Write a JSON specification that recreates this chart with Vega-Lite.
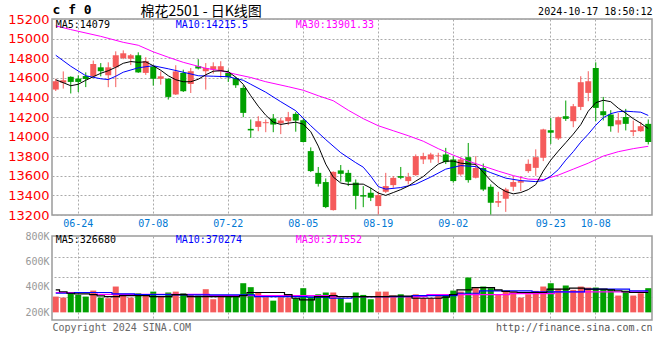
{
 "$schema": "https://vega.github.io/schema/vega-lite/v6.json",
 "background": "#ffffff",
 "padding": {"left": 6, "top": 2, "right": 8, "bottom": 4},
 "config": {
  "view": {"stroke": "#9a9a9a", "strokeWidth": 1.5},
  "axis": {"gridColor": "#aaaaaa", "gridDash": [2, 2], "gridWidth": 1, "domain": false, "ticks": false, "labelFont": "DejaVu Sans Mono", "titleFont": "DejaVu Sans Mono", "titleFontWeight": "normal"},
  "text": {"font": "DejaVu Sans Mono"}
 },
 "datasets": {
  "k": [
   {"d":"06-19","o":14480,"h":14590,"l":14465,"c":14565,"v":324000,"m5":14580,"m10":14830,"m30":15130,"vm5":377000,"vm10":350000,"vm30":356000},
   {"d":"06-20","o":14550,"h":14665,"l":14490,"c":14575,"v":316000,"m5":14550,"vm5":362000,"vm10":350000,"vm30":356000},
   {"d":"06-21","o":14610,"h":14615,"l":14440,"c":14558,"v":356000,"m5":14519,"m10":14718,"m30":15092,"vm5":350000,"vm10":350000,"vm30":356000},
   {"d":"06-24","o":14592,"h":14625,"l":14455,"c":14558,"v":337000,"m5":14534,"vm5":345000,"vm10":356000,"vm30":356000},
   {"d":"06-25","o":14618,"h":14655,"l":14505,"c":14588,"v":324000,"m5":14575,"m10":14621,"vm5":345000,"vm10":356000,"vm30":356000},
   {"d":"06-26","o":14616,"h":14776,"l":14610,"c":14741,"v":371000,"m5":14611,"vm5":340000,"vm10":356000,"vm30":356000},
   {"d":"06-27","o":14707,"h":14750,"l":14615,"c":14667,"v":316000,"m5":14646,"m10":14590,"m30":15023,"vm5":330000,"vm10":356000,"vm30":342000},
   {"d":"06-28","o":14626,"h":14758,"l":14504,"c":14707,"v":311000,"m5":14672,"m10":14582,"vm5":324000,"vm10":356000,"vm30":342000},
   {"d":"07-01","o":14707,"h":14870,"l":14505,"c":14830,"v":403000,"m5":14707,"m10":14616,"vm5":324000,"vm10":345000,"vm30":342000},
   {"d":"07-02","o":14800,"h":14880,"l":14790,"c":14850,"v":332000,"m5":14748,"m10":14657,"m30":14962,"vm5":332000,"vm10":345000,"vm30":342000},
   {"d":"07-03","o":14795,"h":14843,"l":14730,"c":14830,"v":316000,"m5":14766,"vm5":332000,"vm10":345000,"vm30":342000},
   {"d":"07-04","o":14830,"h":14860,"l":14650,"c":14655,"v":350000,"m5":14758,"m10":14702,"m30":14932,"vm5":332000,"vm10":340000,"vm30":342000},
   {"d":"07-05","o":14650,"h":14810,"l":14630,"c":14770,"v":337000,"m5":14763,"vm5":332000,"vm10":340000,"vm30":342000},
   {"d":"07-08","o":14715,"h":14720,"l":14520,"c":14590,"v":363000,"m5":14723,"m10":14723,"m30":14865,"vm5":324000,"vm10":340000,"vm30":342000},
   {"d":"07-09","o":14590,"h":14665,"l":14530,"c":14615,"v":324000,"m5":14677,"vm5":324000,"vm10":340000,"vm30":342000},
   {"d":"07-10","o":14590,"h":14595,"l":14378,"c":14405,"v":356000,"m5":14621,"m10":14692,"m30":14810,"vm5":324000,"vm10":340000,"vm30":342000},
   {"d":"07-11","o":14430,"h":14728,"l":14425,"c":14665,"v":363000,"m5":14580,"vm5":340000,"vm10":337000,"vm30":342000},
   {"d":"07-12","o":14650,"h":14683,"l":14455,"c":14463,"v":350000,"m5":14560,"m10":14657,"m30":14758,"vm5":340000,"vm10":337000,"vm30":342000},
   {"d":"07-15","o":14537,"h":14700,"l":14445,"c":14667,"v":337000,"m5":14560,"vm5":324000,"vm10":337000,"vm30":342000},
   {"d":"07-16","o":14718,"h":14790,"l":14685,"c":14695,"v":332000,"m5":14585,"m10":14621,"vm5":324000,"vm10":337000,"vm30":342000},
   {"d":"07-17","o":14667,"h":14750,"l":14480,"c":14700,"v":382000,"m5":14631,"m30":14697,"vm5":324000,"vm10":337000,"vm30":342000},
   {"d":"07-18","o":14684,"h":14758,"l":14643,"c":14718,"v":303000,"m5":14667,"m10":14616,"vm5":324000,"vm10":337000,"vm30":332000},
   {"d":"07-19","o":14667,"h":14769,"l":14600,"c":14718,"v":332000,"m5":14672,"m30":14672,"vm5":324000,"vm10":337000,"vm30":332000},
   {"d":"07-22","o":14650,"h":14683,"l":14558,"c":14606,"v":332000,"m5":14662,"m10":14611,"vm5":324000,"vm10":337000,"vm30":332000},
   {"d":"07-23","o":14598,"h":14610,"l":14497,"c":14524,"v":332000,"m5":14606,"m30":14636,"vm5":324000,"vm10":337000,"vm30":332000},
   {"d":"07-24","o":14497,"h":14524,"l":14198,"c":14242,"v":429000,"m5":14534,"m10":14575,"vm5":332000,"vm10":337000,"vm30":332000},
   {"d":"07-25","o":14079,"h":14175,"l":13987,"c":14063,"v":398000,"m5":14417,"m10":14534,"m30":14603,"vm5":356000,"vm10":337000,"vm30":332000},
   {"d":"07-26","o":14099,"h":14208,"l":14055,"c":14157,"v":356000,"m5":14310,"vm5":356000,"vm10":324000,"vm30":332000},
   {"d":"07-29","o":14137,"h":14175,"l":14045,"c":14147,"v":319000,"m5":14218,"m10":14453,"m30":14560,"vm5":356000,"vm10":324000,"vm30":332000},
   {"d":"07-30","o":14185,"h":14230,"l":14045,"c":14123,"v":292000,"m5":14147,"vm5":356000,"vm10":324000,"vm30":332000},
   {"d":"07-31","o":14137,"h":14190,"l":14025,"c":14164,"v":319000,"m5":14124,"m10":14356,"vm5":356000,"vm10":324000,"vm30":332000},
   {"d":"08-01","o":14157,"h":14252,"l":14117,"c":14198,"v":316000,"m5":14137,"m30":14509,"vm5":340000,"vm10":324000,"vm30":332000},
   {"d":"08-02","o":14232,"h":14250,"l":14050,"c":14164,"v":311000,"m5":14147,"m10":14264,"vm5":311000,"vm10":324000,"vm30":332000},
   {"d":"08-05","o":14167,"h":14185,"l":13940,"c":13945,"v":390000,"m5":14127,"m30":14473,"vm5":298000,"vm10":324000,"vm30":332000},
   {"d":"08-06","o":13852,"h":13890,"l":13638,"c":13648,"v":324000,"m5":14050,"m10":14111,"vm5":298000,"vm10":320000,"vm30":332000},
   {"d":"08-07","o":13630,"h":13690,"l":13490,"c":13518,"v":342000,"m5":13903,"m30":14417,"vm5":324000,"vm10":320000,"vm30":332000},
   {"d":"08-08","o":13536,"h":13573,"l":13270,"c":13281,"v":356000,"m5":13719,"m10":13969,"vm5":324000,"vm10":320000,"vm30":332000},
   {"d":"08-09","o":13250,"h":13645,"l":13245,"c":13640,"v":356000,"m5":13587,"m30":14366,"vm5":332000,"vm10":311000,"vm30":324000},
   {"d":"08-12","o":13655,"h":13710,"l":13540,"c":13620,"v":311000,"m5":13526,"m10":13836,"vm5":324000,"vm10":311000,"vm30":324000},
   {"d":"08-13","o":13630,"h":13660,"l":13495,"c":13539,"v":277000,"m5":13512,"m30":14269,"vm5":324000,"vm10":311000,"vm30":324000},
   {"d":"08-14","o":13530,"h":13563,"l":13258,"c":13395,"v":356000,"m5":13515,"m10":13734,"vm5":324000,"vm10":324000,"vm30":324000},
   {"d":"08-15","o":13403,"h":13495,"l":13280,"c":13388,"v":337000,"m5":13515,"m10":13688,"m30":14183,"vm5":324000,"vm10":324000,"vm30":324000},
   {"d":"08-16","o":13427,"h":13478,"l":13342,"c":13376,"v":303000,"m5":13475,"m10":13597,"vm5":324000,"vm10":324000,"vm30":324000},
   {"d":"08-19","o":13291,"h":13440,"l":13205,"c":13403,"v":363000,"m5":13424,"m10":13490,"m30":14111,"vm5":324000,"vm10":324000,"vm30":324000},
   {"d":"08-20","o":13437,"h":13630,"l":13425,"c":13495,"v":363000,"m5":13400,"m10":13464,"vm5":324000,"vm10":324000,"vm30":324000},
   {"d":"08-21","o":13505,"h":13597,"l":13478,"c":13579,"v":332000,"m5":13429,"m30":14060,"vm5":328000,"vm10":324000,"vm30":324000},
   {"d":"08-22","o":13597,"h":13690,"l":13565,"c":13580,"v":342000,"m5":13459,"m10":13480,"vm5":328000,"vm10":324000,"vm30":324000},
   {"d":"08-23","o":13546,"h":13630,"l":13512,"c":13590,"v":324000,"m5":13495,"m30":14009,"vm5":328000,"vm10":324000,"vm30":324000},
   {"d":"08-26","o":13607,"h":13818,"l":13600,"c":13800,"v":342000,"m5":13546,"m10":13515,"vm5":311000,"vm10":332000,"vm30":324000},
   {"d":"08-27","o":13767,"h":13835,"l":13720,"c":13801,"v":311000,"m5":13592,"m30":13953,"vm5":311000,"vm10":332000,"vm30":324000},
   {"d":"08-28","o":13767,"h":13835,"l":13733,"c":13818,"v":311000,"m5":13658,"m10":13587,"vm5":311000,"vm10":332000,"vm30":340000},
   {"d":"08-29","o":13800,"h":13835,"l":13733,"c":13808,"v":342000,"m5":13719,"m30":13877,"vm5":311000,"vm10":332000,"vm30":340000},
   {"d":"08-30","o":13818,"h":13885,"l":13720,"c":13740,"v":332000,"m5":13750,"m10":13668,"vm5":320000,"vm10":332000,"vm30":340000},
   {"d":"09-02","o":13767,"h":13800,"l":13530,"c":13546,"v":371000,"m5":13750,"m30":13811,"vm5":340000,"vm10":332000,"vm30":340000},
   {"d":"09-03","o":13614,"h":13790,"l":13600,"c":13767,"v":363000,"m5":13729,"m10":13704,"vm5":377000,"vm10":350000,"vm30":340000},
   {"d":"09-04","o":13790,"h":13935,"l":13530,"c":13556,"v":474000,"m5":13722,"m30":13750,"vm5":377000,"vm10":350000,"vm30":340000},
   {"d":"09-05","o":13580,"h":13800,"l":13573,"c":13680,"v":390000,"m5":13716,"m10":13694,"vm5":395000,"vm10":350000,"vm30":340000},
   {"d":"09-06","o":13680,"h":13725,"l":13444,"c":13460,"v":403000,"m5":13637,"m30":13699,"vm5":395000,"vm10":369000,"vm30":340000},
   {"d":"09-09","o":13488,"h":13512,"l":13205,"c":13325,"v":390000,"m5":13551,"m10":13632,"vm5":395000,"vm10":369000,"vm30":340000},
   {"d":"09-10","o":13325,"h":13437,"l":13282,"c":13342,"v":342000,"m5":13485,"m30":13648,"vm5":377000,"vm10":369000,"vm30":340000},
   {"d":"09-11","o":13366,"h":13478,"l":13232,"c":13461,"v":363000,"m5":13439,"m10":13576,"vm5":365000,"vm10":369000,"vm30":340000},
   {"d":"09-12","o":13488,"h":13597,"l":13444,"c":13536,"v":363000,"m5":13416,"m30":13602,"vm5":360000,"vm10":369000,"vm30":348000},
   {"d":"09-13","o":13530,"h":13597,"l":13444,"c":13546,"v":316000,"m5":13429,"m10":13551,"vm5":356000,"vm10":369000,"vm30":348000},
   {"d":"09-18","o":13648,"h":13767,"l":13630,"c":13722,"v":342000,"m5":13459,"m30":13566,"vm5":356000,"vm10":369000,"vm30":348000},
   {"d":"09-19","o":13681,"h":13870,"l":13600,"c":13790,"v":369000,"m5":13510,"m10":13541,"vm5":356000,"vm10":361000,"vm30":348000},
   {"d":"09-20","o":13784,"h":14080,"l":13750,"c":14073,"v":403000,"m5":13648,"m10":13551,"m30":13562,"vm5":356000,"vm10":361000,"vm30":348000},
   {"d":"09-23","o":14065,"h":14190,"l":13925,"c":14040,"v":429000,"m5":13760,"m10":13597,"vm5":382000,"vm10":361000,"vm30":348000},
   {"d":"09-24","o":13981,"h":14205,"l":13965,"c":14198,"v":385000,"m5":13852,"m10":13663,"m30":13607,"vm5":382000,"vm10":361000,"vm30":361000},
   {"d":"09-25","o":14208,"h":14368,"l":14160,"c":14181,"v":411000,"m5":13938,"m10":13760,"vm5":382000,"vm10":361000,"vm30":361000},
   {"d":"09-26","o":14157,"h":14333,"l":14096,"c":14310,"v":377000,"m5":14025,"m10":13846,"m30":13668,"vm5":390000,"vm10":361000,"vm30":361000},
   {"d":"09-27","o":14303,"h":14616,"l":14270,"c":14555,"v":403000,"m5":14122,"m10":13943,"vm5":390000,"vm10":361000,"vm30":361000},
   {"d":"09-30","o":14446,"h":14667,"l":14361,"c":14565,"v":395000,"m5":14259,"m10":14025,"m30":13729,"vm5":382000,"vm10":382000,"vm30":361000},
   {"d":"10-08","o":14700,"h":14758,"l":14157,"c":14293,"v":395000,"m5":14346,"m10":14116,"vm5":382000,"vm10":382000,"vm30":361000},
   {"d":"10-09","o":14259,"h":14405,"l":14165,"c":14218,"v":382000,"m5":14371,"m10":14193,"m30":13801,"vm5":382000,"vm10":382000,"vm30":361000},
   {"d":"10-10","o":14225,"h":14270,"l":14050,"c":14106,"v":382000,"m5":14356,"m10":14234,"vm5":377000,"vm10":382000,"vm30":361000},
   {"d":"10-11","o":14123,"h":14242,"l":14040,"c":14167,"v":332000,"m5":14290,"m10":14254,"m30":13846,"vm5":370000,"vm10":382000,"vm30":361000},
   {"d":"10-14","o":14200,"h":14283,"l":14063,"c":14130,"v":371000,"m5":14239,"m10":14259,"vm5":362000,"vm10":382000,"vm30":361000},
   {"d":"10-15","o":14048,"h":14164,"l":14004,"c":14065,"v":332000,"m5":14183,"m10":14254,"m30":13877,"vm5":356000,"vm10":369000,"vm30":361000},
   {"d":"10-16","o":14055,"h":14150,"l":14048,"c":14106,"v":350000,"m5":14137,"m10":14249,"vm5":356000,"vm10":369000,"vm30":361000},
   {"d":"10-17","o":14130,"h":14175,"l":13920,"c":13945,"v":390000,"m5":14082,"m10":14216,"m30":13901,"vm5":356000,"vm10":369000,"vm30":361000}
  ],
  "ma": [
   {"key":"p5","label":"MA5:14079"},
   {"key":"p10","label":"MA10:14215.5"},
   {"key":"p30","label":"MA30:13901.33"},
   {"key":"v5","label":"MA5:326680"},
   {"key":"v10","label":"MA10:370274"},
   {"key":"v30","label":"MA30:371552"}
  ]
 },
 "spacing": 21,
 "bounds": "flush",
 "vconcat": [
  {
   "width": 600,
   "height": 196,
   "data": {"name": "k"},
   "layer": [
    {
     "mark": {"type": "rule", "strokeWidth": 1, "clip": true},
     "encoding": {
      "x": {"field": "d", "type": "ordinal", "scale": {"paddingInner": 0, "paddingOuter": 0},
            "axis": {"orient": "bottom", "values": ["06-24","07-08","07-22","08-05","08-19","09-02","09-23","10-08"], "bandPosition": 0.5, "labelAngle": 0, "labelColor": "#0078d4", "labelFontSize": 10, "labelPadding": 3, "grid": true, "title": null}},
      "y": {"field": "l", "type": "quantitative", "scale": {"domain": [13200, 15200], "nice": false, "zero": false},
            "axis": {"values": [13200,13400,13600,13800,14000,14200,14400,14600,14800,15000,15200], "format": "d", "labelColor": "#ff0000", "labelFont": "DejaVu Sans", "labelFontSize": 13, "labelPadding": 3, "grid": true,
                     "title": "c f 0", "titleAngle": 0, "titleX": 0, "titleY": -3, "titleAlign": "left", "titleBaseline": "bottom", "titleFontSize": 13, "titleFontWeight": "bold", "titleColor": "#000000"}},
      "y2": {"field": "h"},
      "color": {"condition": {"test": "datum.c >= datum.o", "value": "#f55b5b"}, "value": "#00a000"}
     }
    },
    {
     "mark": {"type": "bar", "size": 6, "clip": true},
     "encoding": {
      "x": {"field": "d", "type": "ordinal", "scale": {"paddingInner": 0, "paddingOuter": 0},
            "axis": {"orient": "top", "labels": false, "grid": false, "title": "2024-10-17 18:50:12", "titleX": 600, "titleY": -3, "titleAlign": "right", "titleBaseline": "bottom", "titleFontSize": 10, "titleColor": "#000000"}},
      "y": {"field": "o", "type": "quantitative", "scale": {"domain": [13200, 15200], "nice": false, "zero": false}, "axis": null},
      "y2": {"field": "c"},
      "color": {"condition": {"test": "datum.c >= datum.o", "value": "#f55b5b"}, "value": "#00a000"}
     }
    },
    {
     "transform": [{"filter": "isValid(datum.m30)"}],
     "mark": {"type": "line", "color": "#ff00ff", "strokeWidth": 1, "clip": true},
     "encoding": {
      "x": {"field": "d", "type": "ordinal", "scale": {"paddingInner": 0, "paddingOuter": 0}, "axis": null},
      "y": {"field": "m30", "type": "quantitative", "scale": {"domain": [13200, 15200], "nice": false, "zero": false}, "axis": null}
     }
    },
    {
     "transform": [{"filter": "isValid(datum.m10)"}],
     "mark": {"type": "line", "color": "#0000ff", "strokeWidth": 1, "clip": true},
     "encoding": {
      "x": {"field": "d", "type": "ordinal", "scale": {"paddingInner": 0, "paddingOuter": 0}, "axis": null},
      "y": {"field": "m10", "type": "quantitative", "scale": {"domain": [13200, 15200], "nice": false, "zero": false}, "axis": null}
     }
    },
    {
     "mark": {"type": "line", "color": "#000000", "strokeWidth": 1, "clip": true},
     "encoding": {
      "x": {"field": "d", "type": "ordinal", "scale": {"paddingInner": 0, "paddingOuter": 0}, "axis": null},
      "y": {"field": "m5", "type": "quantitative", "scale": {"domain": [13200, 15200], "nice": false, "zero": false},
            "axis": {"orient": "right", "labels": false, "grid": false, "title": "棉花2501 - 日K线图", "titleAngle": 0, "titleX": -512, "titleY": -1, "titleAlign": "left", "titleBaseline": "bottom", "titleFont": "Noto Sans CJK SC", "titleFontSize": 14, "titleColor": "#000000"}}
     }
    },
    {
     "data": {"name": "ma"},
     "transform": [{"filter": "datum.key == 'p5'"}],
     "mark": {"type": "text", "align": "left", "baseline": "middle", "fontSize": 10, "color": "#000000"},
     "encoding": {
      "x": {"datum": "06-19", "type": "ordinal", "scale": {"paddingInner": 0, "paddingOuter": 0}, "axis": null},
      "y": {"datum": 15140, "type": "quantitative", "scale": {"domain": [13200, 15200], "nice": false, "zero": false}, "axis": null},
      "text": {"field": "label"}
     }
    },
    {
     "data": {"name": "ma"},
     "transform": [{"filter": "datum.key == 'p10'"}],
     "mark": {"type": "text", "align": "left", "baseline": "middle", "fontSize": 10, "color": "#0000ff"},
     "encoding": {
      "x": {"datum": "07-11", "type": "ordinal", "scale": {"paddingInner": 0, "paddingOuter": 0}, "axis": null},
      "y": {"datum": 15140, "type": "quantitative", "scale": {"domain": [13200, 15200], "nice": false, "zero": false}, "axis": null},
      "text": {"field": "label"}
     }
    },
    {
     "data": {"name": "ma"},
     "transform": [{"filter": "datum.key == 'p30'"}],
     "mark": {"type": "text", "align": "left", "baseline": "middle", "fontSize": 10, "color": "#ff00ff"},
     "encoding": {
      "x": {"datum": "08-02", "type": "ordinal", "scale": {"paddingInner": 0, "paddingOuter": 0}, "axis": null},
      "y": {"datum": 15140, "type": "quantitative", "scale": {"domain": [13200, 15200], "nice": false, "zero": false}, "axis": null},
      "text": {"field": "label"}
     }
    }
   ],
   "resolve": {"axis": {"x": "independent", "y": "independent"}}
  },
  {
   "width": 600,
   "height": 84,
   "data": {"name": "k"},
   "layer": [
    {
     "mark": {"type": "bar", "size": 6, "clip": true},
     "encoding": {
      "x": {"field": "d", "type": "ordinal", "scale": {"paddingInner": 0, "paddingOuter": 0},
            "axis": {"values": ["06-24","07-08","07-22","08-05","08-19","09-02","09-23","10-08"], "bandPosition": 0.5, "labels": false, "grid": true,
                     "title": "Copyright 2024 SINA.COM", "titleX": 0, "titleY": 2, "titleAlign": "left", "titleBaseline": "top", "titleFontSize": 10, "titleColor": "#666666"}},
      "y": {"field": "v", "type": "quantitative", "scale": {"domain": [140000, 800000], "nice": false, "zero": false},
            "axis": {"values": [200000, 400000, 600000, 800000], "labelExpr": "datum.value / 1000 + 'K'", "labelColor": "#999999", "labelFontSize": 10, "labelPadding": 3, "grid": false, "title": null}},
      "y2": {"datum": 200000},
      "color": {"condition": {"test": "datum.c >= datum.o", "value": "#f55b5b"}, "value": "#00a000"}
     }
    },
    {
     "mark": {"type": "line", "interpolate": "step", "color": "#ff00ff", "strokeWidth": 1.2, "clip": true},
     "encoding": {
      "x": {"field": "d", "type": "ordinal", "scale": {"paddingInner": 0, "paddingOuter": 0}, "axis": null},
      "y": {"field": "vm30", "type": "quantitative", "scale": {"domain": [140000, 800000], "nice": false, "zero": false},
            "axis": {"orient": "right", "values": [321000, 479000, 637000], "labels": false, "grid": true,
                     "title": "http://finance.sina.com.cn", "titleAngle": 0, "titleX": 0, "titleY": 86, "titleAlign": "right", "titleBaseline": "top", "titleFontSize": 10, "titleColor": "#555555"}}
     }
    },
    {
     "mark": {"type": "line", "interpolate": "step", "color": "#0000ff", "strokeWidth": 1.2, "clip": true},
     "encoding": {
      "x": {"field": "d", "type": "ordinal", "scale": {"paddingInner": 0, "paddingOuter": 0}, "axis": null},
      "y": {"field": "vm10", "type": "quantitative", "scale": {"domain": [140000, 800000], "nice": false, "zero": false}, "axis": null}
     }
    },
    {
     "mark": {"type": "line", "interpolate": "step", "color": "#000000", "strokeWidth": 1.2, "clip": true},
     "encoding": {
      "x": {"field": "d", "type": "ordinal", "scale": {"paddingInner": 0, "paddingOuter": 0}, "axis": null},
      "y": {"field": "vm5", "type": "quantitative", "scale": {"domain": [140000, 800000], "nice": false, "zero": false}, "axis": null}
     }
    },
    {
     "data": {"name": "ma"},
     "transform": [{"filter": "datum.key == 'v5'"}],
     "mark": {"type": "text", "align": "left", "baseline": "middle", "fontSize": 10, "color": "#000000"},
     "encoding": {
      "x": {"datum": "06-19", "type": "ordinal", "scale": {"paddingInner": 0, "paddingOuter": 0}, "axis": null},
      "y": {"datum": 772000, "type": "quantitative", "scale": {"domain": [140000, 800000], "nice": false, "zero": false}, "axis": null},
      "text": {"field": "label"}
     }
    },
    {
     "data": {"name": "ma"},
     "transform": [{"filter": "datum.key == 'v10'"}],
     "mark": {"type": "text", "align": "left", "baseline": "middle", "fontSize": 10, "color": "#0000ff"},
     "encoding": {
      "x": {"datum": "07-11", "type": "ordinal", "scale": {"paddingInner": 0, "paddingOuter": 0}, "axis": null},
      "y": {"datum": 772000, "type": "quantitative", "scale": {"domain": [140000, 800000], "nice": false, "zero": false}, "axis": null},
      "text": {"field": "label"}
     }
    },
    {
     "data": {"name": "ma"},
     "transform": [{"filter": "datum.key == 'v30'"}],
     "mark": {"type": "text", "align": "left", "baseline": "middle", "fontSize": 10, "color": "#ff00ff"},
     "encoding": {
      "x": {"datum": "08-02", "type": "ordinal", "scale": {"paddingInner": 0, "paddingOuter": 0}, "axis": null},
      "y": {"datum": 772000, "type": "quantitative", "scale": {"domain": [140000, 800000], "nice": false, "zero": false}, "axis": null},
      "text": {"field": "label"}
     }
    }
   ],
   "resolve": {"axis": {"x": "independent", "y": "independent"}}
  }
 ]
}
